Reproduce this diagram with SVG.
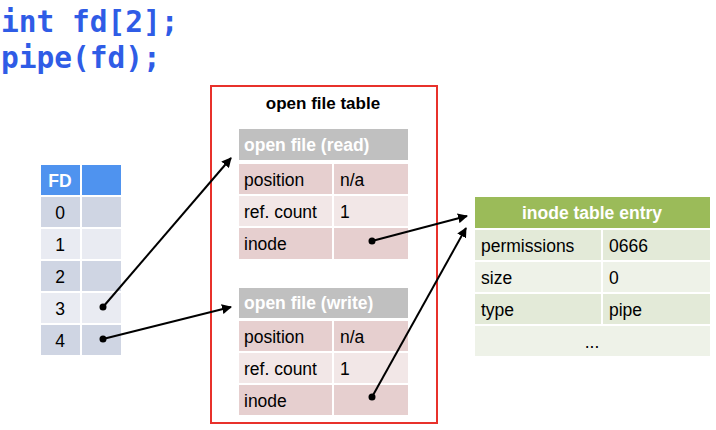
<svg xmlns="http://www.w3.org/2000/svg" width="716" height="430" viewBox="0 0 716 430">
<defs>
<style>
.code{font-family:"DejaVu Sans Mono","Liberation Mono",monospace;font-weight:bold;font-size:29.5px;fill:#2f5ce6}
.t{font-family:"Liberation Sans",Arial,sans-serif;font-size:17.5px;fill:#000}
.hd{font-family:"Liberation Sans",Arial,sans-serif;font-size:17.5px;font-weight:bold;fill:#fff}
.cell{stroke:#fff;stroke-width:2}
.fdh{fill:#4f93ef}
.fdd{fill:#cfd5e3}
.fdl{fill:#e9ebf2}
.ofh{fill:#c0c0c0}
.ofd{fill:#e6cfcf}
.ofl{fill:#f2e7e7}
.inh{fill:#9bbb59}
.ind{fill:#e3ead8}
.inl{fill:#eef2e8}
.conn{stroke:#000;stroke-width:2;fill:none;marker-end:url(#ah)}
</style>
<marker id="ah" viewBox="0 0 10 10" refX="9" refY="5" markerWidth="5" markerHeight="5" orient="auto" markerUnits="strokeWidth">
<path d="M0,0 L10,5 L0,10 z" fill="#000"/>
</marker>
</defs>
<rect width="716" height="430" fill="#fff"/>
<g id="code">
<text class="code" x="1" y="32">int fd[2];</text>
<text class="code" x="1" y="68">pipe(fd);</text>
</g>
<g id="fd-table">
<rect class="cell fdh" x="40" y="164" width="41" height="32"/>
<rect class="cell fdh" x="81" y="164" width="41" height="32"/>
<rect class="cell fdd" x="40" y="196" width="41" height="32"/>
<rect class="cell fdd" x="81" y="196" width="41" height="32"/>
<rect class="cell fdl" x="40" y="228" width="41" height="32"/>
<rect class="cell fdl" x="81" y="228" width="41" height="32"/>
<rect class="cell fdd" x="40" y="260" width="41" height="32"/>
<rect class="cell fdd" x="81" y="260" width="41" height="32"/>
<rect class="cell fdl" x="40" y="292" width="41" height="32"/>
<rect class="cell fdl" x="81" y="292" width="41" height="32"/>
<rect class="cell fdd" x="40" y="324" width="41" height="32"/>
<rect class="cell fdd" x="81" y="324" width="41" height="32"/>
<text class="hd" x="60" y="187" text-anchor="middle">FD</text>
<text class="t" x="60" y="219" text-anchor="middle">0</text>
<text class="t" x="60" y="251" text-anchor="middle">1</text>
<text class="t" x="60" y="283" text-anchor="middle">2</text>
<text class="t" x="60" y="315" text-anchor="middle">3</text>
<text class="t" x="60" y="347" text-anchor="middle">4</text>
</g>
<g id="open-file-table">
<rect x="211" y="86" width="226" height="337" fill="none" stroke="#e8312b" stroke-width="2"/>
<text x="323" y="109" text-anchor="middle" style="font-family:'Liberation Sans',Arial,sans-serif;font-size:17px;font-weight:bold;fill:#000">open file table</text>
</g>
<g id="open-file-read">
<rect class="cell ofh" x="238" y="128" width="171" height="33"/>
<rect class="cell ofd" x="238" y="163" width="95" height="32"/>
<rect class="cell ofd" x="333" y="163" width="76" height="32"/>
<rect class="cell ofl" x="238" y="195" width="95" height="32"/>
<rect class="cell ofl" x="333" y="195" width="76" height="32"/>
<rect class="cell ofd" x="238" y="227" width="95" height="33"/>
<rect class="cell ofd" x="333" y="227" width="76" height="33"/>
<text class="hd" x="244" y="151">open file (read)</text>
<text class="t" x="244" y="186">position</text>
<text class="t" x="340" y="186">n/a</text>
<text class="t" x="244" y="218">ref. count</text>
<text class="t" x="340" y="218">1</text>
<text class="t" x="244" y="250">inode</text>
</g>
<g id="open-file-write">
<rect class="cell ofh" x="238" y="287" width="171" height="32"/>
<rect class="cell ofd" x="238" y="320" width="95" height="32"/>
<rect class="cell ofd" x="333" y="320" width="76" height="32"/>
<rect class="cell ofl" x="238" y="352" width="95" height="32"/>
<rect class="cell ofl" x="333" y="352" width="76" height="32"/>
<rect class="cell ofd" x="238" y="384" width="95" height="32"/>
<rect class="cell ofd" x="333" y="384" width="76" height="32"/>
<text class="hd" x="244" y="309">open file (write)</text>
<text class="t" x="244" y="343">position</text>
<text class="t" x="340" y="343">n/a</text>
<text class="t" x="244" y="375">ref. count</text>
<text class="t" x="340" y="375">1</text>
<text class="t" x="244" y="407">inode</text>
</g>
<g id="inode-table-entry">
<rect class="cell inh" x="474" y="196" width="237" height="33"/>
<rect class="cell ind" x="474" y="229" width="128" height="32"/>
<rect class="cell ind" x="602" y="229" width="109" height="32"/>
<rect class="cell inl" x="474" y="261" width="128" height="32"/>
<rect class="cell inl" x="602" y="261" width="109" height="32"/>
<rect class="cell ind" x="474" y="293" width="128" height="32"/>
<rect class="cell ind" x="602" y="293" width="109" height="32"/>
<rect class="cell inl" x="474" y="325" width="237" height="32"/>
<text class="hd" x="592" y="219" text-anchor="middle">inode table entry</text>
<text class="t" x="481" y="252">permissions</text>
<text class="t" x="609" y="252">0666</text>
<text class="t" x="481" y="284">size</text>
<text class="t" x="609" y="284">0</text>
<text class="t" x="481" y="316">type</text>
<text class="t" x="609" y="316">pipe</text>
<text class="t" x="592" y="348" text-anchor="middle">...</text>
</g>
<g id="connectors">
<circle cx="103" cy="307" r="3.5"/>
<circle cx="103" cy="339" r="3.5"/>
<circle cx="372" cy="241" r="3.5"/>
<circle cx="372" cy="397" r="3.5"/>
<line class="conn" x1="103" y1="307" x2="231" y2="158"/>
<line class="conn" x1="103" y1="339" x2="231" y2="307"/>
<line class="conn" x1="372" y1="241" x2="467" y2="216"/>
<line class="conn" x1="372" y1="397" x2="466" y2="228"/>
</g>
</svg>
